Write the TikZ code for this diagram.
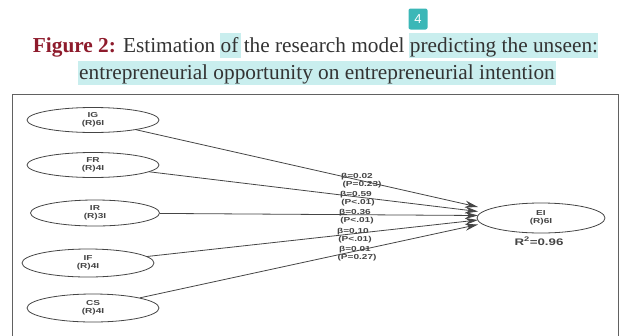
\documentclass[tikz,border=0pt]{standalone}
\usepackage{fontspec}
\setmainfont{Liberation Serif}
\newfontfamily\diafont[FakeStretch=1.4]{Liberation Sans}
\newfontfamily\badgefont{Liberation Sans}
\usetikzlibrary{shapes.geometric,arrows.meta}
\definecolor{hl}{HTML}{C9EEEE}
\definecolor{badge}{HTML}{3BB7B7}
\definecolor{figred}{HTML}{8E1B2C}
\definecolor{txt}{HTML}{333333}
\definecolor{ln}{HTML}{454545}
\tikzset{
  cons/.style={ellipse, draw=ln, line width=0.8pt, minimum width=132pt, minimum height=25pt, inner sep=0pt,
    font=\diafont\fontsize{7.2}{8.2}\selectfont\bfseries, text=ln, align=center},
  path/.style={draw=ln, line width=0.8pt, -{Stealth[length=13pt,width=7pt]}},
  lbl/.style={font=\diafont\fontsize{7.2}{7.5}\selectfont\bfseries, text=ln, inner sep=0pt},
  ttl/.style={text=txt, font=\fontsize{21.3}{24}\selectfont, inner sep=0pt, anchor=base}
}
\begin{document}
\begin{tikzpicture}[x=1pt,y=-1pt]
\useasboundingbox (0,0) rectangle (620,335);
% highlights
\fill[hl] (220,33) rectangle (241,58);
\fill[hl] (409,33) rectangle (598,58);
\fill[hl] (78,61) rectangle (556,85);
% badge
\node[fill=badge, rounded corners=2pt, minimum width=19pt, minimum height=21pt, inner sep=0pt,
  text=white, font=\badgefont\fontsize{13}{13}\selectfont] (badge) at (418,19) {4};
% title
\node[ttl] (t1) at (315.5,52)
  {\textcolor{figred}{\bfseries Figure 2:} Estimation of the research model predicting the unseen:};
\node[ttl] (t2) at (317,79)
  {entrepreneurial opportunity on entrepreneurial intention};
% frame
\draw[color=ln!85, line width=1.2pt] (12.5,340) -- (12.5,94.5) -- (618.5,94.5) -- (618.5,340);
% constructs
\node[cons] (IG) at (93,120) {IG\\(R)6I};
\node[cons] (FR) at (93,165) {FR\\(R)4I};
\node[cons, minimum width=129pt, minimum height=26pt] (IR) at (95,213) {IR\\(R)3I};
\node[cons, minimum height=28pt] (IF) at (88,263) {IF\\(R)4I};
\node[cons, minimum height=28pt] (CS) at (93,308) {CS\\(R)4I};
\node[cons, minimum width=128pt, minimum height=30pt] (EI) at (541,218) {EI\\(R)6I};
\node[lbl, font=\diafont\fontsize{9.5}{10}\selectfont\bfseries] (r2) at (539,241) {R\textsuperscript{2}=0.96};
% paths
\coordinate (e1) at (478,207);
\coordinate (e2) at (478,211.5);
\coordinate (e3) at (478,215.5);
\coordinate (e4) at (478,220);
\coordinate (e5) at (478,224.5);
\draw[path] (IG) -- (e1);
\draw[path] (FR) -- (e2);
\draw[path] (IR) -- (e3);
\draw[path] (IF) -- (e4);
\draw[path] (CS) -- (e5);
% labels
\node[lbl] (b1) at (357,177) {β=0.02};
\node[lbl] (p1) at (362,185) {(P=0.23)};
\node[lbl] (b2) at (356,195) {β=0.59};
\node[lbl] (p2) at (358,203) {(P<.01)};
\node[lbl] (b3) at (355,213) {β=0.36};
\node[lbl] (p3) at (357,221) {(P<.01)};
\node[lbl] (b4) at (353,232) {β=0.10};
\node[lbl] (p4) at (355,240) {(P<.01)};
\node[lbl] (b5) at (355,250) {β=0.01};
\node[lbl] (p5) at (357,258) {(P=0.27)};
\end{tikzpicture}
\end{document}
